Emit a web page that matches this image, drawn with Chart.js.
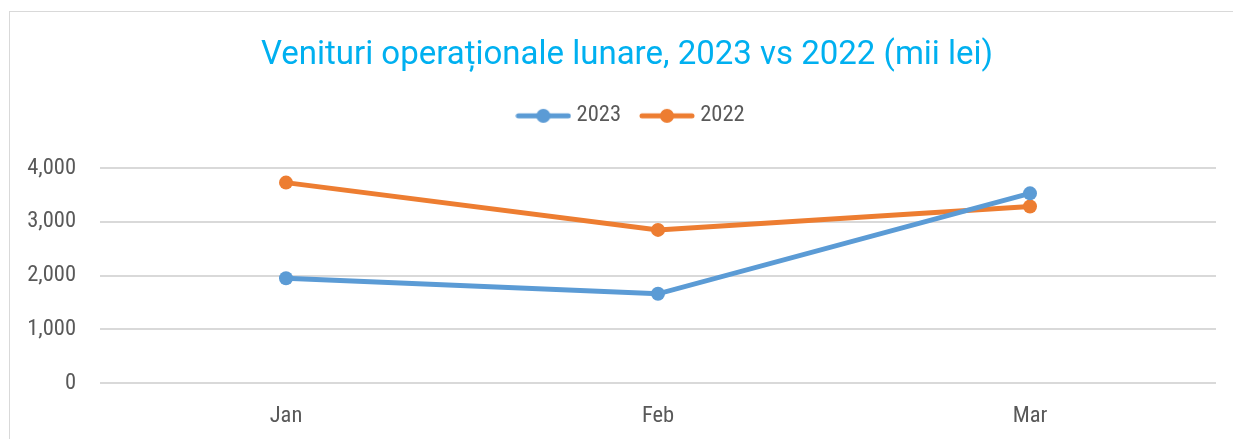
<!DOCTYPE html>
<html>
<head>
<meta charset="utf-8">
<script src="https://cdn.jsdelivr.net/npm/chart.js@4"></script>
<style>
  html, body { margin: 0; padding: 0; background: #fff; overflow: hidden; }
  #frame {
    position: absolute; left: 9px; top: 11px;
    width: 1240px; height: 440px;
    border: 1px solid #d9d9d9;
  }
  #wrap { position: absolute; left: 0; top: 0; width: 1234px; height: 428px; }
</style>
</head>
<body>
<div id="frame"><div id="wrap"><canvas id="chart"></canvas></div></div>
<script>
// data
const months = ['Jan', 'Feb', 'Mar'];
const values2023 = [1950, 1660, 3530];
const values2022 = [3730, 2850, 3285];
const yTicks = [0, 1000, 2000, 3000, 4000];

const blue = '#5B9BD5';
const orange = '#ED7D31';
const tickFont = { family: "'Roboto Condensed', sans-serif", size: 22.5 };

// legend marker: short line with a dot in the middle
function legendMarker(color) {
  const c = document.createElement('canvas');
  c.width = 56; c.height = 16;
  const g = c.getContext('2d');
  g.strokeStyle = color;
  g.lineWidth = 5;
  g.lineCap = 'round';
  g.beginPath(); g.moveTo(3, 8); g.lineTo(53, 8); g.stroke();
  g.fillStyle = color;
  g.beginPath(); g.arc(28, 8, 7, 0, Math.PI * 2); g.fill();
  return c;
}

// extra room under the legend before the plot, and nudge the row a bit right
const legendGap = {
  id: 'legendGap',
  beforeInit(chart) {
    const fit = chart.legend.fit;
    chart.legend.fit = function () {
      fit.call(this);
      this.height += 31;
      if (this.lineWidths) this.lineWidths = this.lineWidths.map(w => w - 12);
    };
  }
};

const ctx = document.getElementById('chart').getContext('2d');
new Chart(ctx, {
  type: 'line',
  data: {
    labels: months,
    datasets: [
      {
        label: '2023',
        data: values2023,
        borderColor: blue,
        backgroundColor: blue,
        borderWidth: 5,
        pointRadius: 7,
        pointBorderWidth: 0,
        tension: 0
      },
      {
        label: '2022',
        data: values2022,
        borderColor: orange,
        backgroundColor: orange,
        borderWidth: 5,
        pointRadius: 7,
        pointBorderWidth: 0,
        tension: 0
      }
    ]
  },
  plugins: [legendGap],
  options: {
    responsive: true,
    maintainAspectRatio: false,
    animation: false,
    layout: { padding: 0 },
    plugins: {
      title: {
        display: true,
        text: 'Venituri operaționale lunare, 2023 vs 2022 (mii lei)',
        color: '#00B0F0',
        font: { family: 'Roboto, sans-serif', size: 33, weight: 'normal' },
        padding: { top: 24, bottom: 5 }
      },
      legend: {
        position: 'top',
        labels: {
          usePointStyle: true,
          pointStyleWidth: 44,
          color: '#595959',
          font: tickFont,
          padding: 24,
          generateLabels(chart) {
            const items = Chart.defaults.plugins.legend.labels.generateLabels(chart);
            items.forEach(it => { it.pointStyle = legendMarker(chart.data.datasets[it.datasetIndex].borderColor); });
            return items;
          }
        }
      },
      tooltip: { enabled: false }
    },
    scales: {
      x: {
        offset: true,
        grid: { display: false, drawTicks: false },
        border: { display: false },
        ticks: { color: '#595959', font: tickFont, padding: 20 },
        afterFit(axis) { axis.height = 57; }
      },
      y: {
        min: 0,
        max: 4000,
        afterBuildTicks(axis) { axis.ticks = yTicks.map(v => ({ value: v })); },
        grid: { color: '#d9d9d9', lineWidth: 2, drawTicks: false },
        border: { display: false },
        ticks: {
          color: '#595959',
          font: tickFont,
          padding: 24,
          callback: v => v.toLocaleString('en-US')
        },
        afterFit(axis) { axis.width = 90; }
      },
      // empty right margin so the title stays centred on the whole frame
      yRight: {
        position: 'right',
        grid: { display: false, drawTicks: false },
        border: { display: false },
        ticks: { display: false },
        afterFit(axis) { axis.width = 28; }
      }
    }
  }
});
</script>
</body>
</html>
